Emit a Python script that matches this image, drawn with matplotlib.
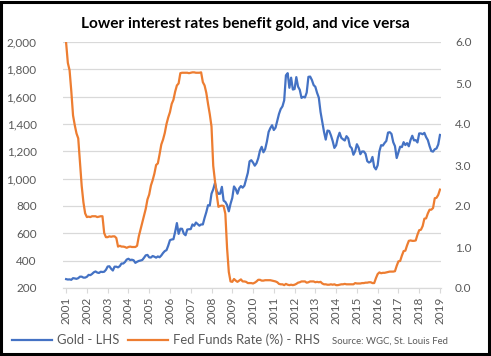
import matplotlib
matplotlib.use("Agg")
import matplotlib.pyplot as plt
from matplotlib.patches import Rectangle
from matplotlib.ticker import FuncFormatter
import numpy as np

plt.rcParams['font.family'] = ['Lato', 'DejaVu Sans']

# monthly values, Jan 2001 .. Jan 2019
gold = [
    265, 262, 263, 260, 272, 270, 267, 272, 283, 283, 276, 276,  # 2001
    282, 296, 294, 303, 315, 321, 313, 310, 319, 317, 319, 333,  # 2002
    357, 359, 341, 328, 356, 356, 351, 360, 379, 379, 390, 408,  # 2003
    414, 405, 407, 403, 384, 392, 398, 401, 405, 421, 439, 442,  # 2004
    424, 423, 434, 429, 422, 431, 425, 438, 456, 470, 477, 510,  # 2005
    550, 555, 557, 611, 675, 596, 634, 633, 598, 586, 628, 630,  # 2006
    631, 665, 655, 679, 667, 656, 665, 665, 713, 755, 806, 803,  # 2007
    890, 922, 968, 910, 889, 890, 940, 839, 830, 807, 761, 816,  # 2008
    859, 943, 924, 890, 929, 946, 934, 949, 997, 1043, 1127, 1135,  # 2009
    1118, 1095, 1113, 1149, 1205, 1233, 1193, 1216, 1271, 1342, 1370, 1391,  # 2010
    1356, 1373, 1424, 1474, 1510, 1529, 1573, 1756, 1772, 1665, 1739, 1652,  # 2011
    1656, 1743, 1674, 1650, 1591, 1599, 1594, 1630, 1745, 1747, 1722, 1685,  # 2012
    1672, 1628, 1593, 1488, 1414, 1343, 1286, 1352, 1349, 1317, 1276, 1225,  # 2013
    1244, 1300, 1336, 1299, 1288, 1279, 1311, 1295, 1237, 1223, 1175, 1201,  # 2014
    1252, 1227, 1179, 1199, 1199, 1182, 1128, 1118, 1125, 1159, 1086, 1068,  # 2015
    1098, 1200, 1245, 1242, 1261, 1276, 1337, 1340, 1327, 1267, 1238, 1151,  # 2016
    1192, 1234, 1231, 1267, 1246, 1260, 1237, 1283, 1314, 1280, 1282, 1265,  # 2017
    1331, 1331, 1325, 1335, 1304, 1282, 1238, 1202, 1198, 1215, 1221, 1250,  # 2018
    1320,  # 2019
]
fed_funds = [
    5.98, 5.49, 5.31, 4.80, 4.21, 3.97, 3.77, 3.65, 3.07, 2.49, 2.09, 1.82,  # 2001
    1.73, 1.74, 1.73, 1.75, 1.75, 1.75, 1.73, 1.74, 1.75, 1.75, 1.34, 1.24,  # 2002
    1.24, 1.26, 1.25, 1.26, 1.26, 1.22, 1.01, 1.03, 1.01, 1.01, 1.00, 0.98,  # 2003
    1.00, 1.01, 1.00, 1.00, 1.00, 1.03, 1.26, 1.43, 1.61, 1.76, 1.93, 2.16,  # 2004
    2.28, 2.50, 2.63, 2.79, 3.00, 3.04, 3.26, 3.50, 3.62, 3.78, 4.00, 4.16,  # 2005
    4.29, 4.49, 4.59, 4.79, 4.94, 4.99, 5.24, 5.25, 5.25, 5.25, 5.25, 5.24,  # 2006
    5.25, 5.26, 5.26, 5.25, 5.25, 5.25, 5.26, 5.02, 4.94, 4.76, 4.49, 4.24,  # 2007
    3.94, 2.98, 2.61, 2.28, 1.98, 2.00, 2.01, 2.00, 1.81, 0.97, 0.39, 0.16,  # 2008
    0.15, 0.22, 0.18, 0.15, 0.18, 0.21, 0.16, 0.16, 0.15, 0.12, 0.12, 0.12,  # 2009
    0.11, 0.13, 0.16, 0.20, 0.20, 0.18, 0.18, 0.19, 0.19, 0.19, 0.19, 0.18,  # 2010
    0.17, 0.16, 0.14, 0.10, 0.09, 0.09, 0.07, 0.10, 0.08, 0.07, 0.08, 0.07,  # 2011
    0.08, 0.10, 0.13, 0.14, 0.16, 0.16, 0.16, 0.13, 0.14, 0.16, 0.16, 0.16,  # 2012
    0.14, 0.15, 0.14, 0.15, 0.11, 0.09, 0.09, 0.08, 0.08, 0.09, 0.08, 0.09,  # 2013
    0.07, 0.07, 0.08, 0.09, 0.09, 0.10, 0.09, 0.09, 0.09, 0.09, 0.09, 0.12,  # 2014
    0.11, 0.11, 0.11, 0.12, 0.12, 0.13, 0.13, 0.14, 0.14, 0.12, 0.12, 0.24,  # 2015
    0.34, 0.38, 0.36, 0.37, 0.37, 0.38, 0.39, 0.40, 0.40, 0.40, 0.41, 0.54,  # 2016
    0.65, 0.66, 0.79, 0.90, 0.91, 1.04, 1.15, 1.16, 1.15, 1.15, 1.16, 1.30,  # 2017
    1.41, 1.42, 1.51, 1.69, 1.70, 1.82, 1.91, 1.91, 1.95, 2.19, 2.20, 2.27,  # 2018
    2.40,  # 2019
]
years = list(range(2001, 2020))
dates = 2001 + np.arange(len(gold)) / 12.0

BLUE = '#4472C4'
ORANGE = '#ED7D31'
GREY = '#595959'

fig = plt.figure(figsize=(4.91, 3.56), dpi=100)
ax = fig.add_axes([63/491, 68/356, 378/491, 246/356])
ax2 = ax.twinx()

ax.plot(dates, gold, color=BLUE, lw=1.6, solid_joinstyle='round')
ax2.plot(dates, fed_funds, color=ORANGE, lw=1.6, solid_joinstyle='round')

ax.set_xlim(2000.85, 2019.05)
ax.set_ylim(200, 2000)
ax.set_yticks(range(200, 2001, 200))
ax.yaxis.set_major_formatter(FuncFormatter(lambda v, p: f'{int(v):,}'))
ax2.set_ylim(0, 6)
ax2.set_yticks(np.arange(0, 6.01, 1))
ax2.yaxis.set_major_formatter(FuncFormatter(lambda v, p: f'{v:.1f}'))

ax.set_xticks(years)
ax.set_xticklabels([str(y) for y in years], rotation=90)

ax.grid(axis='y', color='#d9d9d9', lw=0.9)
ax.set_axisbelow(True)
for a in (ax, ax2):
    for s in ('top', 'left', 'right'):
        a.spines[s].set_visible(False)
    a.spines['bottom'].set_color('#d9d9d9')
ax.tick_params(axis='y', length=0, pad=19, labelsize=8.5, labelcolor=GREY)
ax2.tick_params(axis='y', length=0, pad=10, labelsize=8.5, labelcolor=GREY)
ax.tick_params(axis='x', length=3.5, color='#d9d9d9', pad=3, labelsize=8.5, labelcolor=GREY)

fig.text(0.5, 1 - 24/356, 'Lower interest rates benefit gold, and vice versa',
         ha='center', va='center', fontsize=11.1, fontweight='bold')

handles = [plt.Line2D([], [], color=BLUE, lw=1.6), plt.Line2D([], [], color=ORANGE, lw=1.6)]
fig.legend(handles, ['Gold - LHS', 'Fed Funds Rate (%) - RHS'], loc='center left',
           bbox_to_anchor=(12/491, 1 - 340/356), ncol=2, frameon=False, fontsize=9.4,
           handlelength=3.1, handletextpad=0.38, columnspacing=0.6, borderaxespad=0,
           borderpad=0, labelcolor=GREY)
fig.text(332/491, 1 - 341/356, 'Source: WGC, St. Louis Fed', ha='left', va='center',
         fontsize=6.9, color=GREY)

fig.patches.append(Rectangle((0.003, 0.005), 0.993, 0.99, transform=fig.transFigure,
                             fill=False, edgecolor='black', lw=2.2))

fig.savefig('out.png', dpi=100)
